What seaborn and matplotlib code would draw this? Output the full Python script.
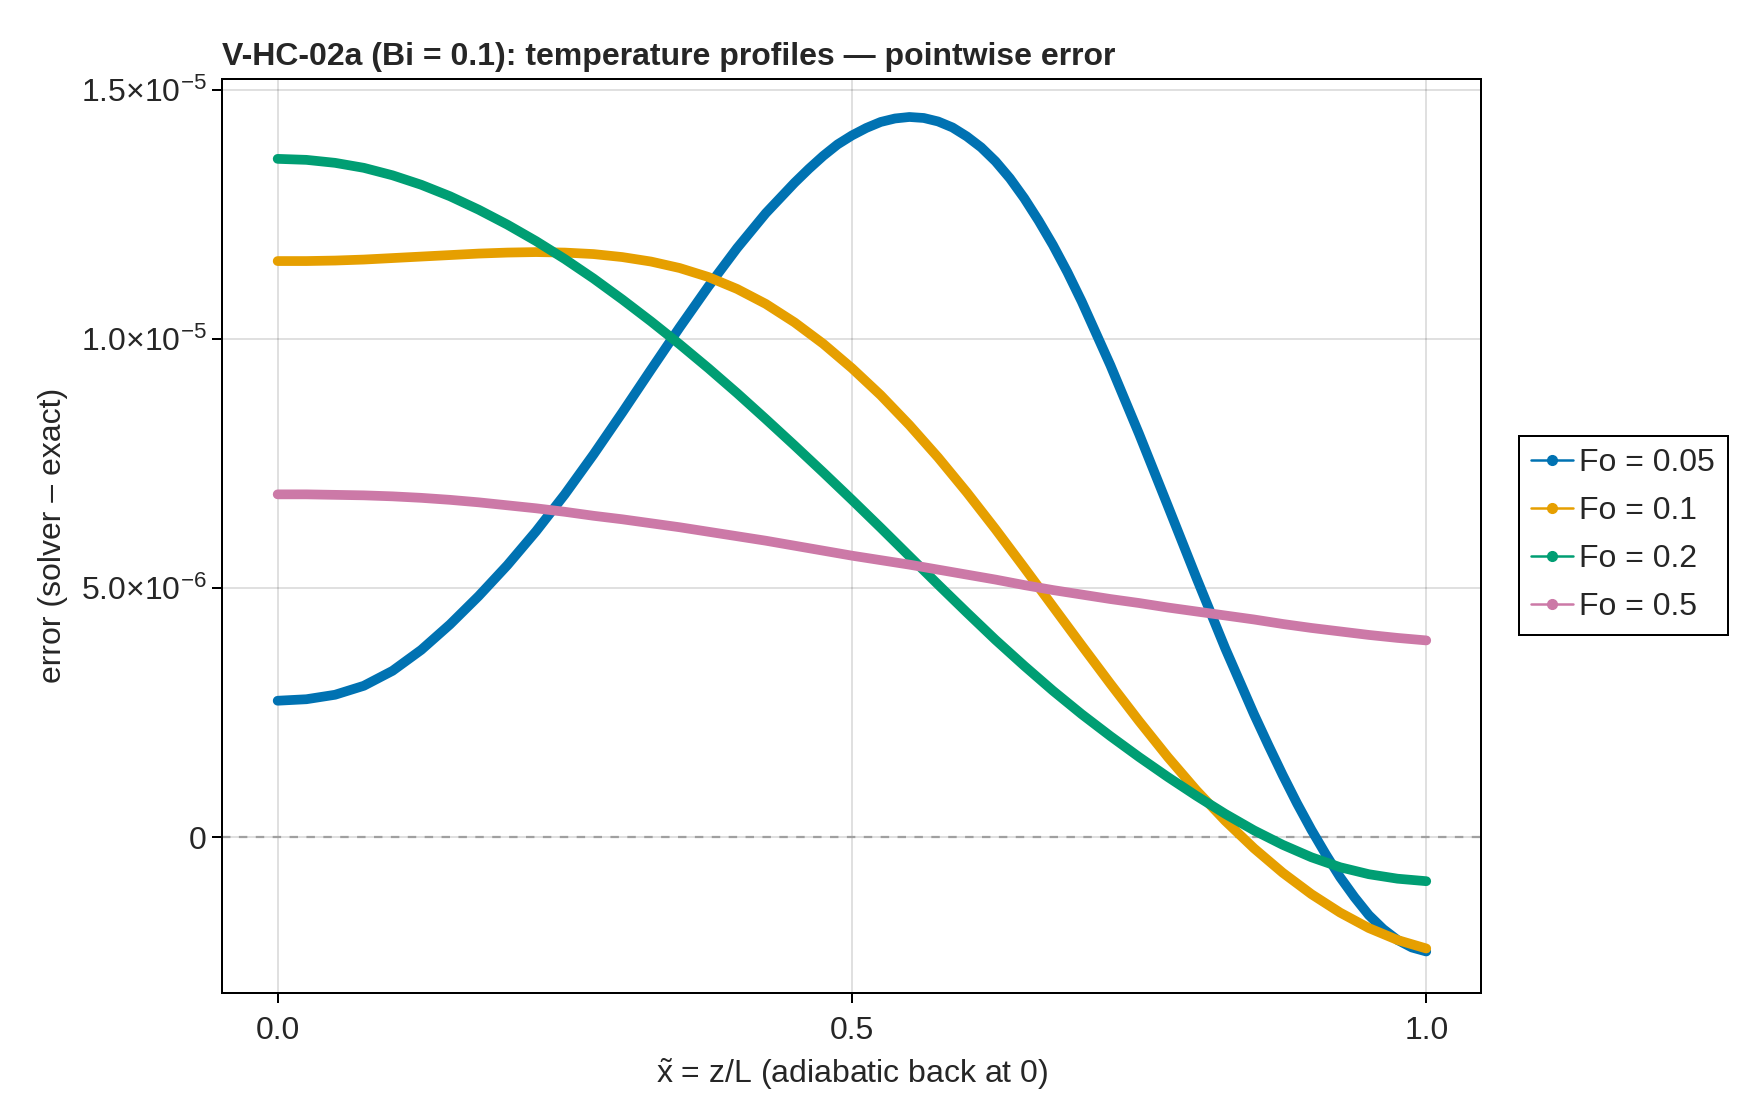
import numpy as np
import pandas as pd
import matplotlib
matplotlib.use("Agg")
import matplotlib.pyplot as plt
import seaborn as sns
from matplotlib.lines import Line2D

# ---------------- data (errors in units of 1e-6) ----------------
x_tilde = [0.000, 0.025, 0.050, 0.075, 0.100, 0.125, 0.150, 0.175, 0.200, 0.225,
           0.250, 0.275, 0.300, 0.325, 0.350, 0.375, 0.400, 0.425, 0.450, 0.475,
           0.500, 0.525, 0.550, 0.575, 0.600, 0.625, 0.650, 0.675, 0.700, 0.725,
           0.750, 0.775, 0.800, 0.825, 0.850, 0.875, 0.900, 0.925, 0.950, 0.975,
           1.000]

# Fo = 0.05 is read more densely around its peak and its right end
x_tilde_fo_005 = [0.000, 0.025, 0.050, 0.075, 0.100, 0.125, 0.150, 0.175, 0.200, 0.225,
                  0.250, 0.275, 0.300, 0.325, 0.350, 0.375, 0.400, 0.425, 0.450, 0.4625,
                  0.475, 0.4875, 0.500, 0.5125, 0.525, 0.5375, 0.550, 0.5625, 0.575, 0.5875,
                  0.600, 0.6125, 0.625, 0.6375, 0.650, 0.6625, 0.675, 0.6875, 0.700, 0.725,
                  0.750, 0.775, 0.800, 0.825, 0.850, 0.8625, 0.875, 0.8875, 0.900, 0.9125,
                  0.925, 0.9375, 0.950, 0.9625, 0.975, 0.9875, 1.000]

err_fo_005 = [2.74, 2.77, 2.86, 3.04, 3.34, 3.76, 4.27, 4.84, 5.46, 6.14,
              6.88, 7.68, 8.52, 9.38, 10.23, 11.05, 11.82, 12.52, 13.13, 13.41,
              13.67, 13.90, 14.08, 14.23, 14.35, 14.42, 14.45, 14.43, 14.36, 14.24,
              14.06, 13.84, 13.56, 13.22, 12.82, 12.37, 11.88, 11.34, 10.75, 9.47,
              8.09, 6.65, 5.20, 3.79, 2.47, 1.85, 1.25, 0.68, 0.15, -0.34,
              -0.80, -1.20, -1.56, -1.84, -2.06, -2.21, -2.29]

err_fo_01 = [11.56, 11.56, 11.57, 11.59, 11.62, 11.65, 11.68, 11.71, 11.73, 11.74,
             11.73, 11.70, 11.64, 11.55, 11.42, 11.24, 11.00, 10.70, 10.33, 9.90,
             9.41, 8.87, 8.27, 7.62, 6.92, 6.18, 5.41, 4.63, 3.85, 3.08,
             2.33, 1.61, 0.94, 0.33, -0.22, -0.71, -1.14, -1.51, -1.82, -2.06,
             -2.23]

err_fo_02 = [13.61, 13.59, 13.53, 13.43, 13.28, 13.09, 12.86, 12.59, 12.29, 11.96,
             11.60, 11.21, 10.79, 10.35, 9.89, 9.41, 8.91, 8.39, 7.86, 7.32,
             6.77, 6.21, 5.64, 5.07, 4.51, 3.96, 3.44, 2.94, 2.47, 2.03,
             1.61, 1.21, 0.83, 0.47, 0.14, -0.15, -0.40, -0.60, -0.74, -0.83,
             -0.88]

err_fo_05 = [6.88, 6.88, 6.87, 6.86, 6.84, 6.81, 6.77, 6.72, 6.66, 6.60,
             6.53, 6.45, 6.38, 6.30, 6.22, 6.13, 6.04, 5.95, 5.85, 5.75,
             5.65, 5.56, 5.47, 5.37, 5.27, 5.17, 5.06, 4.96, 4.87, 4.78,
             4.70, 4.61, 4.53, 4.45, 4.37, 4.28, 4.20, 4.13, 4.06, 4.00,
             3.95]

series_labels = ["Fo = 0.05", "Fo = 0.1", "Fo = 0.2", "Fo = 0.5"]
series_x = [x_tilde_fo_005, x_tilde, x_tilde, x_tilde]
series_values = [err_fo_005, err_fo_01, err_fo_02, err_fo_05]
UNIT = 1e-6

y_tick_values = [0.0, 5e-6, 1e-5, 1.5e-5]
y_tick_labels = ["0", r"$5.0{\times}10^{-6}$", r"$1.0{\times}10^{-5}$", r"$1.5{\times}10^{-5}$"]
x_tick_values = [0.0, 0.5, 1.0]
x_tick_labels = ["0.0", "0.5", "1.0"]

colors = ["#0072B2", "#E69F00", "#009E73", "#CC79A7"]

# ---------------- style ----------------
sns.set_style("white")
plt.rcParams["font.family"] = ["Liberation Sans", "DejaVu Sans"]
plt.rcParams["mathtext.fontset"] = "custom"
plt.rcParams["mathtext.rm"] = "Liberation Sans"
plt.rcParams["mathtext.it"] = "Liberation Sans:italic"
plt.rcParams["mathtext.bf"] = "Liberation Sans:bold"

FS = 23

frames = []
for lab, xs, vals in zip(series_labels, series_x, series_values):
    frames.append(pd.DataFrame({"x": xs,
                                "err": np.asarray(vals) * UNIT,
                                "series": lab}))
df = pd.concat(frames, ignore_index=True)

fig = plt.figure(figsize=(17.6, 11.2), dpi=100)
ax = fig.add_axes([0.12625, 0.11339, 0.71551, 0.81643])

ax.set_xlim(-0.0483, 1.0481)
ax.set_ylim(-3.123 * UNIT, 15.22 * UNIT)

ax.grid(True, color="black", alpha=0.12, linewidth=1.44)
ax.set_axisbelow(True)

ax.axhline(0, color="#a0a0a0", linewidth=1.6, linestyle=(0, (3.8, 3.8)), zorder=1.5)

sns.lineplot(data=df, x="x", y="err", hue="series", hue_order=series_labels,
             palette=colors, linewidth=7, legend=False, sort=False,
             estimator=None, solid_capstyle="round", solid_joinstyle="round",
             ax=ax, zorder=2)

ax.set_xticks(x_tick_values)
ax.set_xticklabels(x_tick_labels)
ax.set_yticks(y_tick_values)
ax.set_yticklabels(y_tick_labels)

for sp in ax.spines.values():
    sp.set_visible(True)
    sp.set_color("black")
    sp.set_linewidth(1.44)

ax.tick_params(axis="both", which="both", direction="out", length=7.2, width=1.44,
               color="black", labelsize=FS, bottom=True, left=True, top=False, right=False)
ax.tick_params(axis="x", pad=9)
ax.tick_params(axis="y", pad=4)

ax.set_xlabel(r"$\tilde{\mathrm{x}}$ = z/L (adiabatic back at 0)", fontsize=FS, va="center")
ax.xaxis.set_label_coords(0.5, -0.0882)
ax.set_ylabel("error (solver \u2013 exact)", fontsize=FS, va="center")
ax.yaxis.set_label_coords(-0.1343, 0.5)

ax.set_title("V-HC-02a (Bi = 0.1): temperature profiles \u2014 pointwise error",
             loc="left", fontsize=FS, fontweight="bold", pad=10)

handles = [Line2D([0], [0], color=c, lw=1.8, marker="o", markersize=7)
           for c in colors]
leg = ax.legend(handles, series_labels, loc="upper left",
                bbox_to_anchor=(1518.6 / 1760, 1 - 435.5 / 1120),
                bbox_transform=fig.transFigure, borderaxespad=0,
                fontsize=FS, frameon=True, fancybox=False, framealpha=1,
                edgecolor="black", handlelength=1.3, handletextpad=0.2,
                borderpad=0.4, labelspacing=0.565)
leg.get_frame().set_linewidth(1.44)

fig.savefig("out.png", dpi=100)
